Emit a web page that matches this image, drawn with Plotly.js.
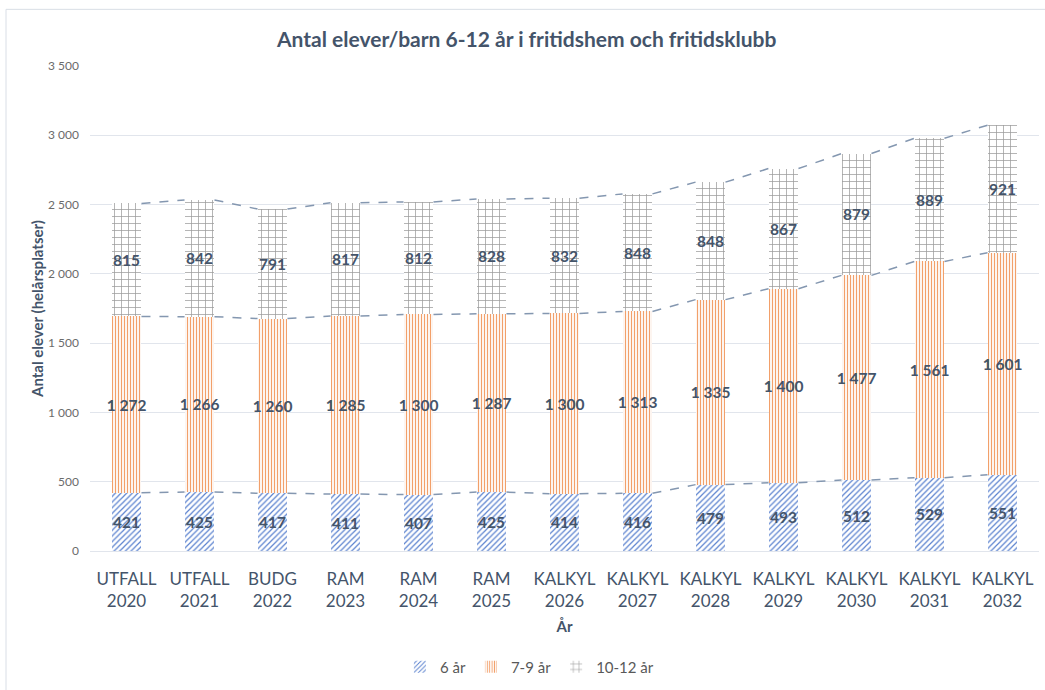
<!DOCTYPE html>
<html>
<head>
<meta charset="utf-8">
<script src="https://cdn.plot.ly/plotly-3.0.1.min.js"></script>
<style>
  html, body { margin: 0; padding: 0; background: #fff; }
  #chart { width: 1045px; height: 690px; }
</style>
</head>
<body>
<div id="chart"></div>
<script>
// Kategorier (två rader: typ + år)
const categories = [
    "UTFALL<br>2020", "UTFALL<br>2021", "BUDG<br>2022", "RAM<br>2023", "RAM<br>2024",
    "RAM<br>2025", "KALKYL<br>2026", "KALKYL<br>2027", "KALKYL<br>2028", "KALKYL<br>2029",
    "KALKYL<br>2030", "KALKYL<br>2031", "KALKYL<br>2032",
];
const seriesNames = ["6 år", "7-9 år", "10-12 år"];
const age6 = [421, 425, 417, 411, 407, 425, 414, 416, 479, 493, 512, 529, 551];
const age7to9 = [1272, 1266, 1260, 1285, 1300, 1287, 1300, 1313, 1335, 1400, 1477, 1561, 1601];
const age10to12 = [815, 842, 791, 817, 812, 828, 832, 848, 848, 867, 879, 889, 921];

const TEXT_COLOR = "#44546A";
const FONT = "Lato, 'Open Sans', sans-serif";
const BAR_W = 0.41;

const xIdx = categories.map((_, i) => i);

// mönster: diagonal (blå), prickar (orange), tegel (grå)
const patterns = [
    { shape: "/", fgcolor: "#5B82CF", bgcolor: "#ffffff", size: 4, solidity: 0.3 },
    { shape: "|", fgcolor: "#F2A06A", bgcolor: "#ffffff", size: 3, solidity: 0.4 },
    { shape: "+", fgcolor: "#9A9A9A", bgcolor: "#ffffff", size: 7, solidity: 0.2 },
];

const seriesValues = [age6, age7to9, age10to12];

const barTraces = seriesValues.map((vals, s) => ({
    type: "bar",
    name: seriesNames[s],
    x: xIdx,
    y: vals,
    width: BAR_W,
    marker: { color: "#ffffff", line: { width: 0 }, pattern: patterns[s] },
    texttemplate: "%{y:,.0f}",
    textposition: "inside",
    insidetextanchor: "middle",
    textangle: 0,
    constraintext: "none",
    textfont: { family: FONT, size: 15.5, color: TEXT_COLOR, weight: "bold" },
    hoverinfo: "name+y",
}));

// Serielinjer mellan staplarnas toppar (som i Excel)
const lineTraces = [];
let cum = xIdx.map(() => 0);
seriesValues.forEach((vals) => {
    cum = cum.map((c, i) => c + vals[i]);
    const lx = [], ly = [];
    for (let i = 0; i < cum.length - 1; i++) {
        lx.push(i + BAR_W / 2, i + 1 - BAR_W / 2, null);
        ly.push(cum[i], cum[i + 1], null);
    }
    lineTraces.push({
        type: "scatter",
        mode: "lines",
        x: lx,
        y: ly,
        line: { color: "#8497B0", width: 1.5, dash: "dash" },
        showlegend: false,
        hoverinfo: "skip",
    });
});

const layout = {
    barmode: "stack",
    separators: ", ",
    paper_bgcolor: "#ffffff",
    plot_bgcolor: "#ffffff",
    font: { family: FONT, color: "#595959" },
    margin: { l: 90, r: 6, t: 66, b: 136 },
    title: {
        text: "Antal elever/barn 6-12 år i fritidshem och fritidsklubb",
        font: { family: FONT, size: 21, color: TEXT_COLOR, weight: "bold" },
        x: 0.504,
        xref: "container",
        y: 0.953,
        yref: "container",
    },
    xaxis: {
        range: [-0.5, categories.length - 0.5],
        tickvals: xIdx,
        ticktext: categories,
        tickfont: { family: FONT, size: 17, color: TEXT_COLOR },
        ticklabelstandoff: 16,
        showgrid: false,
        zeroline: false,
        showline: false,
        ticks: "",
        title: {
            text: "År",
            font: { family: FONT, size: 15, color: TEXT_COLOR, weight: "bold" },
            standoff: 11,
        },
    },
    yaxis: {
        range: [0, 3500],
        dtick: 500,
        tickformat: ",.0f",
        tickfont: { family: FONT, size: 12, color: "#6B6B6B" },
        gridcolor: "#E1E5EC",
        gridwidth: 1,
        zeroline: true,
        zerolinecolor: "#E1E5EC",
        ticks: "",
        ticklabelstandoff: 10,
        title: {
            text: "Antal elever (helårsplatser)",
            font: { family: FONT, size: 15, color: TEXT_COLOR, weight: "bold" },
            standoff: 0,
        },
    },
    legend: {
        orientation: "h",
        x: 0.463,
        xanchor: "center",
        y: -0.205,
        yanchor: "top",
        itemwidth: 30,
        font: { family: FONT, size: 15, color: "#595959" },
        traceorder: "normal",
    },
    shapes: [
        {
            type: "path",
            xref: "paper",
            yref: "paper",
            path: "M -0.0885 -0.3 L -0.0885 1.1168 L 1.01 1.1168",
            line: { color: "#D9DEE6", width: 1 },
        },
    ],
};

Plotly.newPlot("chart", [...barTraces, ...lineTraces], layout, {
    displayModeBar: false,
    staticPlot: true,
});
</script>
</body>
</html>
